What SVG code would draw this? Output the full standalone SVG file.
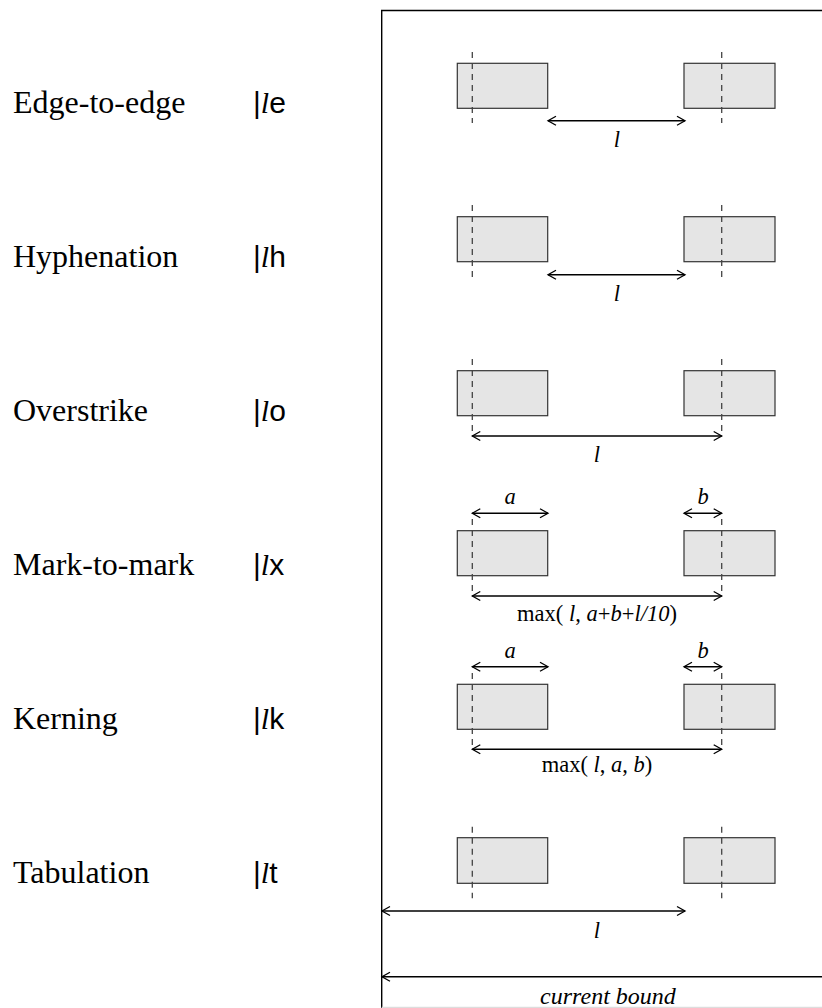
<svg xmlns="http://www.w3.org/2000/svg" width="822" height="1008" viewBox="0 0 822 1008">
<defs>
<marker id="ah" markerWidth="12" markerHeight="12" refX="9.5" refY="6" orient="auto-start-reverse" markerUnits="userSpaceOnUse" viewBox="0 0 12 12">
<path d="M1.5,1.5 L9.5,6 L1.5,10.5" fill="none" stroke="#000" stroke-width="1.3"/>
</marker>
<style>
.lbl{font-family:"Liberation Serif","Times New Roman",serif;font-size:32px;fill:#000}
.cmd{font-family:"Liberation Sans",Arial,sans-serif;font-size:30px;fill:#000}
.it{font-family:"Liberation Serif","Times New Roman",serif;font-style:italic}
.dl{font-family:"Liberation Serif","Times New Roman",serif;font-size:22.5px;fill:#000;text-anchor:middle}
.box{fill:#e5e5e5;stroke:#333;stroke-width:1.2}
.dash{stroke:#444;stroke-width:1.3;stroke-dasharray:6 5;fill:none}
.arr{stroke:#000;stroke-width:1.4;fill:none;marker-start:url(#ah);marker-end:url(#ah)}
.arr1{stroke:#000;stroke-width:1.4;fill:none;marker-start:url(#ah)}
.frame{stroke:#000;stroke-width:1.4;fill:none}
</style>
</defs>

<g id="frame">
<path class="frame" d="M822,10.5 H381.7 V1008"/>
<line x1="381.7" y1="1007.3" x2="822" y2="1007.3" stroke="#ddd" stroke-width="1.2"/>
</g>

<g id="labels">
<text class="lbl" x="13" y="113">Edge-to-edge</text>
<text class="cmd" x="253" y="113">|<tspan class="it">l</tspan>e</text>
<text class="lbl" x="13" y="267">Hyphenation</text>
<text class="cmd" x="253" y="267">|<tspan class="it">l</tspan>h</text>
<text class="lbl" x="13" y="421">Overstrike</text>
<text class="cmd" x="253" y="421">|<tspan class="it">l</tspan>o</text>
<text class="lbl" x="13" y="575">Mark-to-mark</text>
<text class="cmd" x="253" y="575">|<tspan class="it">l</tspan>x</text>
<text class="lbl" x="13" y="729">Kerning</text>
<text class="cmd" x="253" y="729">|<tspan class="it">l</tspan>k</text>
<text class="lbl" x="13" y="883">Tabulation</text>
<text class="cmd" x="253" y="883">|<tspan class="it">l</tspan>t</text>
</g>

<g id="row1">
<rect class="box" x="457.3" y="63.3" width="90.4" height="45"/>
<rect class="box" x="684" y="63.3" width="91" height="45"/>
<line class="dash" x1="472.3" y1="52" x2="472.3" y2="123"/>
<line class="dash" x1="721.7" y1="52" x2="721.7" y2="123"/>
</g>
<g id="row2">
<rect class="box" x="457.3" y="216.7" width="90.4" height="45"/>
<rect class="box" x="684" y="216.7" width="91" height="45"/>
<line class="dash" x1="472.3" y1="205" x2="472.3" y2="277"/>
<line class="dash" x1="721.7" y1="205" x2="721.7" y2="277"/>
</g>
<g id="row3">
<rect class="box" x="457.3" y="370.7" width="90.4" height="45"/>
<rect class="box" x="684" y="370.7" width="91" height="45"/>
<line class="dash" x1="472.3" y1="359" x2="472.3" y2="436"/>
<line class="dash" x1="721.7" y1="359" x2="721.7" y2="436"/>
</g>
<g id="row4">
<rect class="box" x="457.3" y="530.7" width="90.4" height="45"/>
<rect class="box" x="684" y="530.7" width="91" height="45"/>
<line class="dash" x1="472.3" y1="519" x2="472.3" y2="596"/>
<line class="dash" x1="721.7" y1="519" x2="721.7" y2="596"/>
</g>
<g id="row5">
<rect class="box" x="457.3" y="684.3" width="90.4" height="45"/>
<rect class="box" x="684" y="684.3" width="91" height="45"/>
<line class="dash" x1="472.3" y1="673" x2="472.3" y2="750"/>
<line class="dash" x1="721.7" y1="673" x2="721.7" y2="750"/>
</g>
<g id="row6">
<rect class="box" x="457.3" y="837.7" width="90.4" height="45.6"/>
<rect class="box" x="684" y="837.7" width="91" height="45.6"/>
<line class="dash" x1="472.3" y1="826.7" x2="472.3" y2="898.3"/>
<line class="dash" x1="721.7" y1="826.7" x2="721.7" y2="898.3"/>
</g>

<g id="connectors">
<line class="arr" x1="548" y1="120.7" x2="685" y2="120.7"/>
<line class="arr" x1="548" y1="274.7" x2="685" y2="274.7"/>
<line class="arr" x1="472.3" y1="436" x2="721.7" y2="436"/>
<line class="arr" x1="472.3" y1="513.3" x2="548" y2="513.3"/>
<line class="arr" x1="684" y1="513.3" x2="721.7" y2="513.3"/>
<line class="arr" x1="472.3" y1="596" x2="721.7" y2="596"/>
<line class="arr" x1="472.3" y1="666.7" x2="548" y2="666.7"/>
<line class="arr" x1="684" y1="666.7" x2="721.7" y2="666.7"/>
<line class="arr" x1="472.3" y1="749.3" x2="721.7" y2="749.3"/>
<line class="arr" x1="382" y1="911" x2="685" y2="911"/>
<line class="arr1" x1="382" y1="976.7" x2="822" y2="976.7"/>
</g>

<g id="dimlabels">
<text class="dl it" x="617" y="147">l</text>
<text class="dl it" x="617" y="301">l</text>
<text class="dl it" x="597" y="462">l</text>
<text class="dl it" x="510" y="504">a</text>
<text class="dl it" x="703" y="504">b</text>
<text class="dl" x="597" y="621">max( <tspan class="it">l</tspan>, <tspan class="it">a</tspan>+<tspan class="it">b</tspan>+<tspan class="it">l/10</tspan>)</text>
<text class="dl it" x="510" y="658">a</text>
<text class="dl it" x="703" y="658">b</text>
<text class="dl" x="597" y="772">max( <tspan class="it">l</tspan>, <tspan class="it">a</tspan>, <tspan class="it">b</tspan>)</text>
<text class="dl it" x="597" y="938">l</text>
<text class="dl it" x="608" y="1004" style="font-size:24px">current bound</text>
</g>
</svg>
